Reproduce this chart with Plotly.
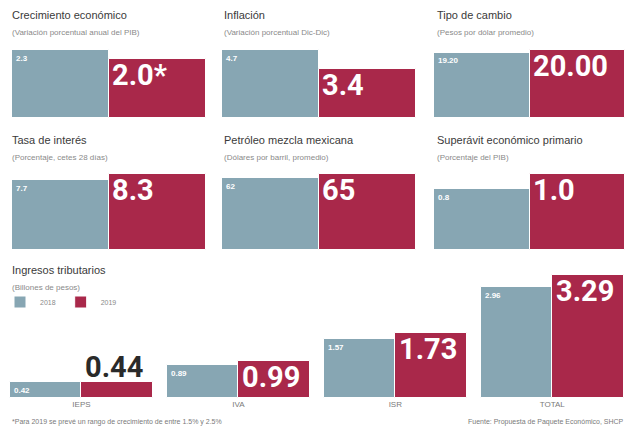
import plotly.graph_objects as go

W, H = 626, 430

# ---- data ----
years = ["2018", "2019"]
panel_titles = ["Crecimiento económico", "Inflación", "Tipo de cambio",
                "Tasa de interés", "Petróleo mezcla mexicana", "Superávit económico primario"]
panel_subtitles = ["(Variación porcentual anual del PIB)", "(Variación porcentual Dic-Dic)",
                   "(Pesos por dólar promedio)", "(Porcentaje, cetes 28 días)",
                   "(Dólares por barril, promedio)", "(Porcentaje del PIB)"]
values_2018 = [2.3, 4.7, 19.20, 7.7, 62, 0.8]
values_2019 = [2.0, 3.4, 20.00, 8.3, 65, 1.0]
labels_2018 = ["2.3", "4.7", "19.20", "7.7", "62", "0.8"]
labels_2019 = ["2.0*", "3.4", "20.00", "8.3", "65", "1.0"]

tax_categories = ["IEPS", "IVA", "ISR", "TOTAL"]
tax_2018 = [0.42, 0.89, 1.57, 2.96]
tax_2019 = [0.44, 0.99, 1.73, 3.29]

BLUE = "#87A6B3"
RED = "#A9284A"
TITLE_C = "#3a3a3a"
SUB_C = "#8a8a8a"
BIG_FONT = "Roboto, Liberation Sans, sans-serif"
TXT_FONT = "Liberation Sans, Arial, sans-serif"
BIG_SIZE = 29

def px_x(p):
    return p / W

def px_y(p):
    return 1 - p / H

# panel geometry in pixels: (x0, x1, ytop, ybottom)
panels = [(12, 206, 45, 118), (222, 416, 45, 118), (434, 625, 45, 118),
          (12, 206, 169, 250), (222, 416, 169, 250), (434, 625, 169, 250)]
title_pos = [(10, 15), (222, 15), (435, 15), (10, 140), (222, 140), (435, 140)]

fig = go.Figure()
annotations = []
layout_axes = {}

for i in range(6):
    ax = "" if i == 0 else str(i + 1)
    x0, x1, yt, yb = panels[i]
    vals = [values_2018[i], values_2019[i]]
    fig.add_trace(go.Bar(x=[0, 1], y=vals, marker=dict(color=[BLUE, RED], line=dict(color="white", width=1)),
                         xaxis="x" + ax, yaxis="y" + ax, showlegend=False, hoverinfo="skip"))
    ymax = max(vals) * 1.07
    layout_axes["xaxis" + ax] = dict(domain=[px_x(x0), px_x(x1)], range=[-0.5, 1.5], visible=False,
                                     anchor="y" + ax, fixedrange=True)
    layout_axes["yaxis" + ax] = dict(domain=[px_y(yb), px_y(yt)], range=[0, ymax], visible=False,
                                     anchor="x" + ax, fixedrange=True)
    annotations.append(dict(x=-0.5, y=values_2018[i], xref="x" + ax, yref="y" + ax, text="<b>" + labels_2018[i] + "</b>",
                            showarrow=False, xanchor="left", yanchor="top", xshift=2, yshift=-2,
                            font=dict(family=TXT_FONT, size=8, color="white")))
    annotations.append(dict(x=0.5, y=values_2019[i], xref="x" + ax, yref="y" + ax, text="<b>" + labels_2019[i] + "</b>",
                            showarrow=False, xanchor="left", yanchor="top", xshift=1, yshift=3,
                            font=dict(family=BIG_FONT, size=BIG_SIZE, color="white")))
    tx, ty = title_pos[i]
    annotations.append(dict(x=px_x(tx), y=px_y(ty), xref="paper", yref="paper", text=panel_titles[i],
                            showarrow=False, xanchor="left", yanchor="middle",
                            font=dict(family=TXT_FONT, size=11, color=TITLE_C)))
    annotations.append(dict(x=px_x(tx), y=px_y(ty + 17), xref="paper", yref="paper", text=panel_subtitles[i],
                            showarrow=False, xanchor="left", yanchor="middle",
                            font=dict(family=TXT_FONT, size=8, color=SUB_C)))

# bottom grouped chart
fig.add_trace(go.Bar(x=tax_categories, y=tax_2018, name=years[0], marker=dict(color=BLUE, line=dict(color="white", width=1)),
                     xaxis="x7", yaxis="y7", hoverinfo="skip"))
fig.add_trace(go.Bar(x=tax_categories, y=tax_2019, name=years[1], marker=dict(color=RED, line=dict(color="white", width=1)),
                     xaxis="x7", yaxis="y7", hoverinfo="skip"))
bargap = 0.09
tax_ymax = max(tax_2019) * 1.055
layout_axes["xaxis7"] = dict(domain=[px_x(3), 1.0], range=[-0.5, 3.47], anchor="y7", showgrid=False,
                             showline=False, ticks="", tickfont=dict(family=TXT_FONT, size=8, color="#7a7a7a"),
                             fixedrange=True)
layout_axes["yaxis7"] = dict(domain=[px_y(398), px_y(268)], range=[0, tax_ymax], visible=False,
                             anchor="x7", fixedrange=True)
half = (1 - bargap) / 2
plot_h = 398 - 268
for j, cat in enumerate(tax_categories):
    annotations.append(dict(x=j - half, y=tax_2018[j], xref="x7", yref="y7", text=f"<b>{tax_2018[j]:.2f}</b>",
                            showarrow=False, xanchor="left", yanchor="top", xshift=2, yshift=-2,
                            font=dict(family=TXT_FONT, size=8, color="white")))
    bar_px = tax_2019[j] / tax_ymax * plot_h
    inside = bar_px > 30
    annotations.append(dict(x=j, y=tax_2019[j], xref="x7", yref="y7", text=f"<b>{tax_2019[j]:.2f}</b>",
                            showarrow=False, xanchor="left", yanchor="top" if inside else "bottom",
                            xshift=2, yshift=3 if inside else -4,
                            font=dict(family=BIG_FONT, size=BIG_SIZE, color="white" if inside else "#2a2a2a")))

annotations.append(dict(x=px_x(10), y=px_y(270), xref="paper", yref="paper", text="Ingresos tributarios",
                        showarrow=False, xanchor="left", yanchor="middle",
                        font=dict(family=TXT_FONT, size=11, color=TITLE_C)))
annotations.append(dict(x=px_x(10), y=px_y(287), xref="paper", yref="paper", text="(Billones de pesos)",
                        showarrow=False, xanchor="left", yanchor="middle",
                        font=dict(family=TXT_FONT, size=8, color=SUB_C)))
annotations.append(dict(x=px_x(10), y=px_y(422), xref="paper", yref="paper",
                        text="*Para 2019 se prevé un rango de crecimiento de entre 1.5% y 2.5%",
                        showarrow=False, xanchor="left", yanchor="middle",
                        font=dict(family=TXT_FONT, size=7, color="#7a7a7a")))
annotations.append(dict(x=1.0, y=px_y(422), xref="paper", yref="paper",
                        text="Fuente: Propuesta de Paquete Económico, SHCP",
                        showarrow=False, xanchor="right", yanchor="middle",
                        font=dict(family=TXT_FONT, size=7, color="#7a7a7a")))

fig.update_layout(
    width=W, height=H,
    margin=dict(l=0, r=0, t=0, b=0),
    paper_bgcolor="white", plot_bgcolor="white",
    barmode="group", bargap=0, bargroupgap=0,
    showlegend=True,
    legend=dict(orientation="h", x=0, y=px_y(302), xanchor="left", yanchor="middle",
                font=dict(family=TXT_FONT, size=7, color="#8a8a8a"), itemwidth=30,
                bgcolor="rgba(0,0,0,0)", tracegroupgap=0),
    annotations=annotations,
    **layout_axes,
)
fig.data[-2].update(width=half, offset=-half)
fig.data[-1].update(width=half, offset=0)

fig.write_html("out.html", config={"displayModeBar": False},
               post_script="document.body.style.margin='0';document.body.style.overflow='hidden';")
